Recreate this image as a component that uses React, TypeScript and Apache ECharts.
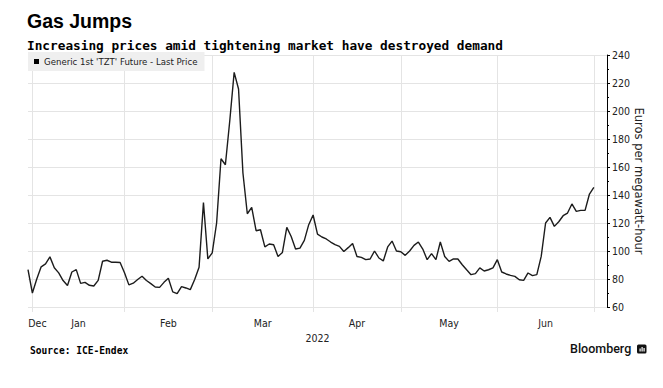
import React, { useEffect, useRef } from "react";
import * as echarts from "echarts";

// ---- texts ----
const TITLE = "Gas Jumps";
const SUBTITLE = "Increasing prices amid tightening market have destroyed demand";
const SOURCE = "Source: ICE-Endex";
const BRAND = "Bloomberg";
const SERIES_NAME = "Generic 1st 'TZT' Future - Last Price";
const Y_AXIS_NAME = "Euros per megawatt-hour";
const YEAR_LABEL = "2022";
const MONTH_NAMES = ["Jan", "Feb", "Mar", "Apr", "May", "Jun", "Jul", "Aug", "Sep", "Oct", "Nov", "Dec"];

// ---- trading calendar ----
const FIRST_DAY = "2021-12-30";
const LAST_DAY = "2022-06-30";
const HOLIDAYS = ["2022-04-15"];

// ---- daily settlement prices (EUR/MWh), one array per month ----
const decPrices = [86.7, 70];
const janPrices = [80, 88.7, 90.8, 95.8, 88, 84.4, 78.9, 75.3, 85, 86.7, 76.9, 77.6, 75.5, 75, 79, 92.7, 93.4, 92, 92, 91.8, 84.4];
const febPrices = [75.8, 77, 79.6, 82, 78.9, 76.7, 74.3, 74, 77.6, 80.5, 70.8, 69.5, 74.6, 73.6, 72.4, 79.6, 88.4, 134.6, 94.4, 98.7];
const marPrices = [120, 165.9, 161.6, 193, 227.6, 215.7, 155.7, 126.6, 131.1, 114.5, 115.2, 102.9, 105, 104.5, 96.1, 99, 116.9, 110.4, 101.4, 102.1, 107.6, 118.8, 125.7];
const aprPrices = [112.1, 110, 108.6, 106.4, 104.5, 103.3, 99.7, 102.4, 105.4, 96.1, 95.4, 93.8, 94.3, 100, 95, 92.9, 102.9, 107.1, 100, 99.5];
const mayPrices = [96.9, 100, 104, 106.4, 101.4, 93.8, 98.1, 93.8, 106.4, 96.1, 92.6, 94.3, 94.3, 90.2, 86.6, 83.1, 83.8, 87.9, 85.7, 86.6, 87.9, 93.8];
const junPrices = [85, 83.6, 82.6, 81.9, 79.5, 79, 84.3, 82.4, 83.1, 96.1, 120, 124, 117.6, 120.9, 125.2, 127.1, 133.6, 128.3, 129, 129, 140.7, 145.4];

// ---- y axis ----
const Y_MIN = 60;
const Y_MAX = 240;
const Y_STEP = 20;

// ---- styles ----
const GRID_COLOR = "#e4e4e4";
const LINE_COLOR = "#1c1c1c";
const LABEL_FONT = "'DejaVu Sans Condensed', 'DejaVu Sans', sans-serif";
const MONO_FONT = "'DejaVu Sans Mono', 'Liberation Mono', monospace";

function tradingDays(first: string, last: string, holidays: string[]): string[] {
  const out: string[] = [];
  const d = new Date(first + "T00:00:00Z");
  const end = new Date(last + "T00:00:00Z");
  while (d.getTime() <= end.getTime()) {
    const wd = d.getUTCDay();
    const iso = d.toISOString().slice(0, 10);
    if (wd !== 0 && wd !== 6 && holidays.indexOf(iso) < 0) out.push(iso);
    d.setUTCDate(d.getUTCDate() + 1);
  }
  return out;
}

export default function App() {
  const ref = useRef<HTMLDivElement>(null);

  useEffect(() => {
    if (!ref.current) return;
    const chart = echarts.init(ref.current, undefined, { renderer: "svg" });

    const prices = [...decPrices, ...janPrices, ...febPrices, ...marPrices, ...aprPrices, ...mayPrices, ...junPrices];
    const dates = tradingDays(FIRST_DAY, LAST_DAY, HOLIDAYS).slice(0, prices.length);

    // month-end indices (gridlines) and month label positions
    const monthEnds: number[] = [];
    dates.forEach((d, i) => {
      if (i === dates.length - 1 || dates[i + 1].slice(5, 7) !== d.slice(5, 7)) monthEnds.push(i);
    });
    const labelMap: Record<number, string> = {};
    monthEnds.forEach((end, k) => {
      const name = MONTH_NAMES[parseInt(dates[end].slice(5, 7), 10) - 1];
      if (k === 0) {
        labelMap[0] = `{d|${name}}`;
      } else {
        const mid = (monthEnds[k - 1] + end) / 2;
        const idx = Math.floor(mid);
        labelMap[idx] = mid !== idx ? `{h|${name}}` : `{n|${name}}`;
      }
    });
    const monthEndSet = new Set(monthEnds);
    const labelStyle = { fontFamily: LABEL_FONT, fontSize: 10.5, color: "#222" };

    chart.setOption({
      animation: false,
      backgroundColor: "#ffffff",
      title: [
        {
          text: TITLE,
          subtext: SUBTITLE,
          left: 27,
          top: 11,
          padding: 0,
          itemGap: 8,
          textStyle: { fontFamily: "'Liberation Sans', Arial, sans-serif", fontWeight: "bold", fontSize: 19.5, color: "#000" },
          subtextStyle: { fontFamily: MONO_FONT, fontWeight: "bold", fontSize: 12.75, color: "#000" },
        },
        {
          text: SOURCE,
          left: 30,
          top: 345,
          padding: 0,
          textStyle: { fontFamily: MONO_FONT, fontWeight: "bold", fontSize: 9.6, color: "#000" },
        },
      ],
      legend: {
        left: 28,
        top: 52,
        padding: [5, 7, 5, 6],
        backgroundColor: "#efefef",
        icon: "rect",
        itemWidth: 5,
        itemHeight: 5,
        textStyle: { fontFamily: "'DejaVu Sans', sans-serif", fontSize: 8.6, color: "#222" },
        data: [SERIES_NAME],
      },
      grid: { left: 28, right: 56, top: 55, bottom: 81, containLabel: false },
      xAxis: {
        type: "category",
        data: dates,
        boundaryGap: false,
        max: dates.length + 2,
        name: YEAR_LABEL,
        nameLocation: "middle",
        nameGap: 25,
        nameMoveOverlap: false,
        nameTextStyle: labelStyle,
        axisLine: { show: false },
        axisTick: {
          show: true,
          length: 5,
          interval: (i: number) => monthEndSet.has(i),
          lineStyle: { color: GRID_COLOR },
        },
        splitLine: {
          show: true,
          interval: (i: number) => monthEndSet.has(i),
          lineStyle: { color: GRID_COLOR, width: 1 },
        },
        axisLabel: {
          interval: (i: number) => labelMap[i] !== undefined,
          formatter: (_v: string, i: number) => labelMap[i] ?? "",
          margin: 10,
          rich: {
            n: { ...labelStyle },
            h: { ...labelStyle, padding: [0, 0, 0, 4.4] },
            d: { ...labelStyle, padding: [0, 0, 0, 19] },
          },
        },
      },
      yAxis: {
        type: "value",
        position: "right",
        min: Y_MIN,
        max: Y_MAX,
        interval: Y_STEP,
        name: Y_AXIS_NAME,
        nameLocation: "middle",
        nameRotate: -90,
        nameGap: 26,
        nameMoveOverlap: false,
        nameTextStyle: { fontFamily: "'DejaVu Sans', sans-serif", fontSize: 11.5, color: "#222" },
        axisLine: { show: true, lineStyle: { color: "#000", width: 1 } },
        axisTick: { show: true, length: 3, lineStyle: { color: "#000" } },
        minorTick: { show: true, splitNumber: 2, length: 2, lineStyle: { color: "#000" } },
        axisLabel: { margin: 5, ...labelStyle },
        splitLine: { show: true, lineStyle: { color: GRID_COLOR, width: 1 } },
      },
      graphic: [
        {
          type: "text",
          left: 570,
          top: 342,
          style: { text: BRAND, font: "500 12.5px Roboto, 'Liberation Sans', sans-serif", fill: "#111" },
        },
        {
          type: "group",
          left: 637,
          top: 344.5,
          children: [
            { type: "rect", shape: { x: 0, y: 0, width: 9.5, height: 9, r: 1.5 }, style: { fill: "#111" } },
            { type: "rect", shape: { x: 2.5, y: 4, width: 1.2, height: 3 }, style: { fill: "#fff" } },
            { type: "rect", shape: { x: 4.5, y: 2.5, width: 1.2, height: 4.5 }, style: { fill: "#fff" } },
            { type: "rect", shape: { x: 6.5, y: 3.5, width: 1.2, height: 3.5 }, style: { fill: "#fff" } },
          ],
        },
      ],
      series: [
        {
          name: SERIES_NAME,
          type: "line",
          data: prices,
          showSymbol: false,
          symbol: "none",
          itemStyle: { color: "#000" },
          lineStyle: { color: LINE_COLOR, width: 1.4 },
        },
      ],
    });

    return () => chart.dispose();
  }, []);

  return (
    <div
      ref={ref}
      style={{ position: "fixed", left: 0, top: 0, width: 663, height: 388, background: "#fff" }}
    />
  );
}
